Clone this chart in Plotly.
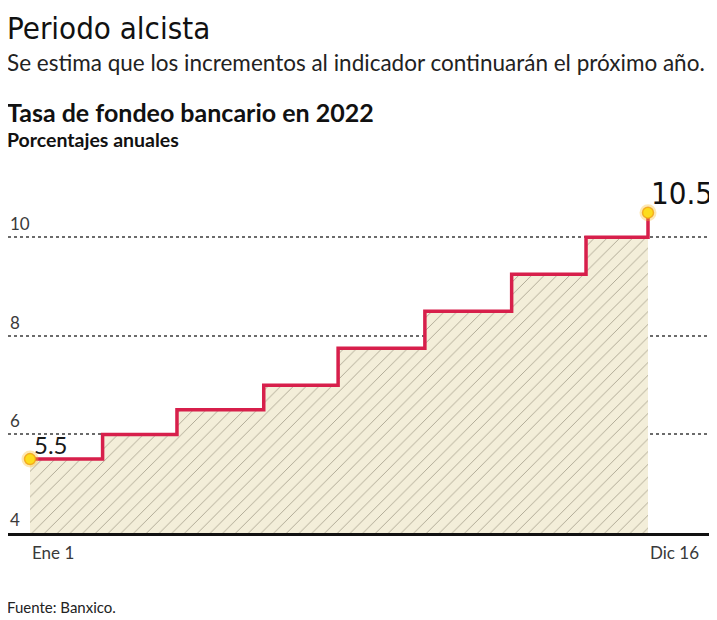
import pandas as pd
import plotly.graph_objects as go

# ---- data ----
dates = ["2022-01-01", "2022-02-11", "2022-03-25", "2022-05-13", "2022-06-24",
         "2022-08-12", "2022-09-30", "2022-11-11", "2022-12-16"]
rates = [5.5, 6.0, 6.5, 7.0, 7.75, 8.5, 9.25, 10.0, 10.5]
y_ticks = [4, 6, 8, 10]
x_labels = ["Ene 1", "Dic 16"]
x_label_dates = ["2022-01-01", "2022-12-16"]
first_label = "5.5"
last_label = "10.5"

title = "Periodo alcista"
subtitle = "Se estima que los incrementos al indicador continuarán el próximo año."
chart_title = "Tasa de fondeo bancario en 2022"
chart_sub = "Porcentajes anuales"
source = "Fuente: Banxico."

OFF = 8  # page body margin
W, H = 717 - OFF, 620 - OFF
ML, MR = 0, 5
MT, MB = 188 - OFF, 620 - 533
PH = H - MT - MB

x = pd.to_datetime(dates)
start, end = x[0], x[-1]
span_days = (end - start).days
pw = W - ML - MR
px_per_day = (648 - 30) / span_days
x0_px = 30 - OFF
xr0 = start - pd.Timedelta(days=x0_px / px_per_day)
xr1 = start + pd.Timedelta(days=(pw - x0_px) / px_per_day)


def py(p):
    # reference page pixel -> paper y
    return (H - MB - (p - OFF)) / PH


def cond(s):
    return '<span style="font-stretch:condensed">' + s + '</span>'


LINE = "#d71f4b"
TXT = "#1a1a1a"
GRAY = "#3a3a3a"
COND = "DejaVu Sans Condensed, DejaVu Sans"

fig = go.Figure()
fig.add_trace(go.Scatter(
    x=x, y=rates, mode="lines", line=dict(shape="hv", color=LINE, width=3.5),
    fill="tozeroy", fillcolor="#f3eed9",
    fillpattern=dict(shape="/", size=9, solidity=0.1, fgcolor="#aaa390",
                     bgcolor="#f3eed9", fillmode="replace"),
    hoverinfo="skip", showlegend=False))
ends_x = [x[0], x[-1]]
ends_y = [rates[0], rates[-1]]
fig.add_trace(go.Scatter(x=ends_x, y=ends_y, mode="markers",
                         marker=dict(size=17, color="rgba(250,190,40,0.35)"),
                         hoverinfo="skip", showlegend=False, cliponaxis=False))
fig.add_trace(go.Scatter(x=ends_x, y=ends_y, mode="markers",
                         marker=dict(size=11, color="#fcdc1c",
                                     line=dict(color="rgba(240,160,20,0.8)", width=1.5)),
                         hoverinfo="skip", showlegend=False, cliponaxis=False))

ann = []
for t in y_ticks:
    ann.append(dict(x=0, xref="paper", y=t, yref="y", text=str(t), showarrow=False,
                    xanchor="left", yanchor="bottom", xshift=0, yshift=1,
                    font=dict(family="Lato", size=17, color=GRAY)))
for lab, d in zip(x_labels, x_label_dates):
    ann.append(dict(x=pd.Timestamp(d), xref="x", y=0, yref="paper", text=lab,
                    showarrow=False, xanchor="left", yanchor="top", xshift=0, yshift=-7,
                    font=dict(family="Lato", size=17, color=GRAY)))
ann.append(dict(x=x[0], xref="x", y=rates[0], yref="y", text=first_label, showarrow=False,
                xanchor="left", yanchor="bottom", xshift=2, yshift=-2,
                font=dict(family="Lato", size=24, color=TXT)))
ann.append(dict(x=x[-1], xref="x", y=rates[-1], yref="y", text=cond(last_label),
                showarrow=False, xanchor="left", yanchor="bottom", xshift=1, yshift=0,
                font=dict(family=COND, size=31, color="#111111")))

# header texts
ann.append(dict(x=0, xref="paper", y=py(48), yref="paper", text=cond(title), showarrow=False,
                xanchor="left", yanchor="bottom", xshift=-3,
                font=dict(family=COND, size=31, color="#111111")))
ann.append(dict(x=0, xref="paper", y=py(78), yref="paper", text=subtitle, showarrow=False,
                xanchor="left", yanchor="bottom", xshift=-3,
                font=dict(family="Lato", size=22.5, color="#222222")))
ann.append(dict(x=0, xref="paper", y=py(129), yref="paper", text=chart_title, showarrow=False,
                xanchor="left", yanchor="bottom", xshift=-3,
                font=dict(family="Lato", size=25, color="#111111", weight=700)))
ann.append(dict(x=0, xref="paper", y=py(153), yref="paper", text=chart_sub, showarrow=False,
                xanchor="left", yanchor="bottom", xshift=-3,
                font=dict(family="Lato", size=19.5, color="#111111", weight=700)))
ann.append(dict(x=0, xref="paper", y=py(618), yref="paper", text=source, showarrow=False,
                xanchor="left", yanchor="bottom", xshift=-3,
                font=dict(family="Lato", size=15, color="#222222")))

fig.update_layout(
    width=W, height=H, margin=dict(l=ML, r=MR, t=MT, b=MB),
    paper_bgcolor="white", plot_bgcolor="white",
    xaxis=dict(type="date", range=[xr0, xr1], showgrid=False, showticklabels=False,
               ticks="", showline=True, linecolor="#111111", linewidth=2.5, zeroline=False,
               fixedrange=True),
    yaxis=dict(range=[4, 11], tickvals=y_ticks, showticklabels=False, ticks="",
               showgrid=True, gridcolor="#6b6b6b", griddash="dot", gridwidth=1.5,
               zeroline=False, showline=False, fixedrange=True),
    annotations=ann,
)
fig.write_html("out.html")
